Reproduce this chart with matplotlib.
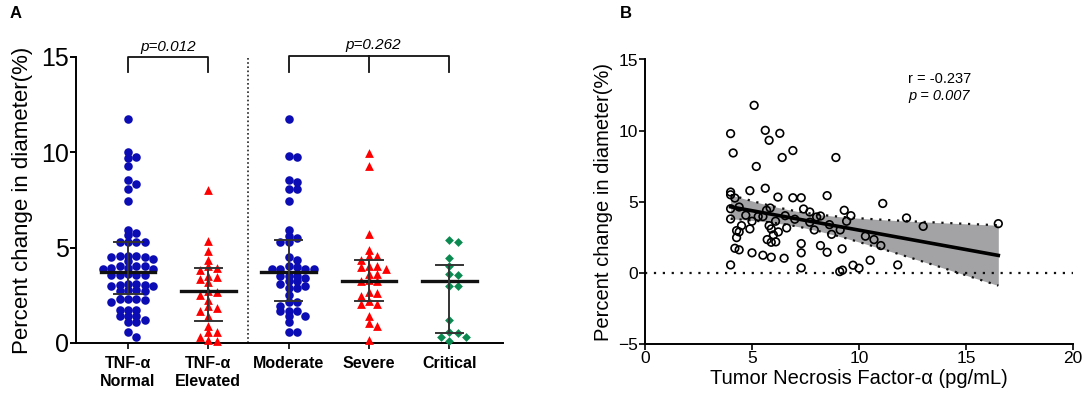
import numpy as np
import matplotlib
matplotlib.use("Agg")
import matplotlib.pyplot as plt

plt.rcParams['font.family'] = ['Liberation Sans', 'DejaVu Sans']

# panel A: percent change per group
groups = ["TNF-α\nNormal", "TNF-α\nElevated", "Moderate", "Severe", "Critical"]
normal = [11.75, 10.0, 9.76, 9.69, 9.30, 8.57, 8.36, 8.08, 7.43, 5.94, 5.77, 5.65,
          5.28, 5.28, 5.28, 5.28, 4.58, 4.58, 4.58, 4.49, 4.49, 4.40, 4.28,
          4.02, 4.02, 4.02, 3.93, 3.93, 3.88, 3.88, 3.60, 3.58, 3.58, 3.58, 3.55,
          3.10, 3.05, 3.05, 3.00, 3.00, 3.10, 2.80, 2.75, 2.72, 2.80,
          2.30, 2.30, 2.25, 2.30, 2.17, 1.75, 1.75, 1.75, 1.43, 1.43, 1.43,
          1.22, 1.10, 1.08, 0.56, 0.31]
elevated = [8.05, 5.37, 4.84, 4.37, 4.02, 3.93, 3.81, 3.53, 3.44, 3.35, 3.18, 2.72,
            2.67, 2.53, 2.27, 1.92, 1.83, 1.66, 1.40, 0.87, 0.56, 0.56, 0.31, 0.17, 0.08]
moderate = [11.75, 9.79, 9.74, 8.57, 8.43, 8.08, 8.08, 7.43, 5.94, 5.63, 5.51, 5.28, 5.28,
            4.51, 4.37, 4.02, 3.97, 3.88, 3.88, 3.88, 3.88, 3.50, 3.50, 3.50, 3.41,
            3.23, 3.23, 3.10, 2.97, 2.88, 2.88, 2.53, 2.13, 2.13, 1.96, 1.70, 1.66,
            1.66, 1.43, 1.43, 1.08, 0.56, 0.56]
severe = [9.97, 9.27, 5.72, 4.86, 4.58, 4.55, 4.34, 4.02, 4.02, 3.97, 3.88, 3.64, 3.64,
          3.30, 3.23, 3.23, 2.66, 2.62, 2.48, 2.19, 2.06, 2.06, 1.43, 1.05, 0.87, 0.14]
critical = [5.38, 5.28, 4.46, 4.02, 3.62, 3.58, 3.00, 3.00, 1.22, 0.56, 0.52, 0.31, 0.31, 0.09]
medians = [3.74, 2.72, 3.74, 3.27, 3.23]
q1 = [2.57, 1.17, 2.22, 2.22, 0.52]
q3 = [5.28, 3.93, 5.38, 4.37, 4.11]

# panel B: TNF-alpha vs percent change
tnf = [4.0, 4.12, 5.1, 5.62, 5.8, 6.3, 5.2, 6.41, 6.91, 8.92, 4.0, 4.0, 4.2, 4.0, 4.0,
       4.4, 4.9, 5.62, 6.21, 6.91, 7.3, 8.51, 11.11, 12.22, 13.0, 16.51, 4.71, 4.51,
       4.28, 4.4, 4.28, 4.2, 4.4, 4.0, 4.9, 5.0, 5.0, 5.29, 5.51, 5.68, 5.85, 5.71,
       5.8, 5.9, 6.0, 5.9, 6.11, 6.1, 6.23, 5.51, 5.9, 6.5, 6.55, 6.62, 7.0, 7.3, 7.3,
       7.3, 7.41, 7.7, 7.7, 7.91, 8.02, 8.2, 8.2, 8.51, 8.62, 8.72, 9.12, 9.21, 9.31,
       9.42, 9.62, 9.1, 9.23, 9.72, 10.0, 10.3, 10.52, 10.7, 11.02, 11.81]
change = [9.79, 8.43, 11.78, 10.02, 9.32, 9.81, 7.48, 8.11, 8.6, 8.11, 5.68, 5.49, 5.26,
          4.51, 3.79, 4.63, 5.78, 5.95, 5.33, 5.28, 5.28, 5.43, 4.88, 3.86, 3.27, 3.46,
          4.05, 3.32, 2.97, 2.88, 2.48, 1.73, 1.62, 0.56, 3.09, 3.63, 1.41, 3.96, 3.96,
          4.4, 4.56, 2.34, 3.32, 3.09, 2.67, 2.15, 2.18, 3.63, 2.88, 1.24, 1.1, 1.03,
          4.02, 3.16, 3.77, 2.06, 1.41, 0.35, 4.49, 4.28, 3.56, 3.02, 3.93, 4.0, 1.92,
          1.45, 3.39, 2.71, 3.02, 1.69, 4.4, 3.63, 4.02, 0.09, 0.19, 0.54, 0.33, 2.58,
          0.89, 2.34, 1.92, 0.56]


def swarm(values, center, xpx, ypx, d=8.3, tight=0.62):
    # simple beeswarm: place each point at the nearest free slot in pixel space
    order = np.argsort(values)[::-1]
    placed = []
    xs = np.zeros(len(values))
    for i in order:
        y = values[i] * ypx
        for k in [0, 1, -1, 2, -2, 3, -3, 4, -4, 5, -5]:
            x = k * d
            if all((x - px) ** 2 + (y - py) ** 2 >= (d * tight) ** 2 for px, py in placed):
                break
        placed.append((x, y))
        xs[i] = center + x / xpx
    return xs


fig = plt.figure(figsize=(10.84, 3.96), dpi=100)

# ---- panel A ----
ax1 = fig.add_axes([76 / 1084, 1 - 343 / 396, 427 / 1084, 286 / 396])
ax1.set_xlim(-0.648, 4.67)
ax1.set_ylim(0, 15)
xpx, ypx = 80.25, 19.07

data = [normal, elevated, moderate, severe, critical]
colors = ['#0c0cb4', '#ff0000', '#0c0cb4', '#ff0000', '#0a8a50']
markers = ['o', '^', 'o', '^', 'D']
sizes = [38, 40, 38, 40, 20]
for i, vals in enumerate(data):
    xs = swarm(vals, i, xpx, ypx)
    ax1.scatter(xs, vals, s=sizes[i], c=colors[i], marker=markers[i],
                linewidths=0, zorder=3, clip_on=False)

for i in range(len(groups)):
    ax1.plot([i - 0.34, i + 0.34], [medians[i]] * 2, color='#111111', lw=2.4, zorder=4)
    ax1.plot([i, i], [q1[i], q3[i]], color='#333333', lw=1.4, zorder=4)
    for q in (q1[i], q3[i]):
        ax1.plot([i - 0.17, i + 0.17], [q, q], color='#333333', lw=1.4, zorder=4)

ax1.axvline(1.5, ymin=0, ymax=1, color='#222222', lw=1.2, linestyle=(0, (1, 1.5)))

# significance brackets
ax1.plot([0, 0, 1, 1], [14.2, 15.0, 15.0, 14.2], color='#111111', lw=1.3, clip_on=False)
ax1.text(0.5, 15.55, 'p=0.012', ha='center', va='center', fontsize=11, style='italic')
ax1.plot([2, 2, 4, 4], [14.2, 15.05, 15.05, 14.2], color='#111111', lw=1.3, clip_on=False)
ax1.plot([3, 3], [15.05, 14.2], color='#111111', lw=1.3, clip_on=False)
ax1.text(3.05, 15.65, 'p=0.262', ha='center', va='center', fontsize=11, style='italic')

ax1.spines['top'].set_visible(False)
ax1.spines['right'].set_visible(False)
ax1.spines['left'].set_linewidth(1.4)
ax1.spines['bottom'].set_linewidth(1.4)
ax1.set_yticks([0, 5, 10, 15])
ax1.tick_params(axis='y', labelsize=18, width=1.4, length=4, pad=1)
ax1.set_xticks(range(len(groups)))
ax1.set_xticklabels(groups, fontsize=11.5, fontweight='bold', linespacing=1.25)
ax1.tick_params(axis='x', width=1.2, length=4, pad=5)
ax1.set_ylabel('Percent change in diameter(%)', fontsize=16, labelpad=6)
fig.text(10 / 1084, 1 - 14 / 396, 'A', fontsize=12, fontweight='bold', va='center')

# ---- panel B ----
ax2 = fig.add_axes([645 / 1084, 1 - 344 / 396, 428 / 1084, 284.5 / 396])
ax2.set_xlim(0, 20)
ax2.set_ylim(-5, 15)

x = np.array(tnf)
y = np.array(change)
slope, intercept = np.polyfit(x, y, 1)
n = len(x)
resid = y - (slope * x + intercept)
s = np.sqrt(np.sum(resid ** 2) / (n - 2))
xf = np.linspace(x.min(), x.max(), 100)
yf = slope * xf + intercept
se = s * np.sqrt(1 / n + (xf - x.mean()) ** 2 / np.sum((x - x.mean()) ** 2))
t = 1.99
ax2.fill_between(xf, yf - t * se, yf + t * se, color='#a3a3a6', lw=0, zorder=1)
ax2.plot(xf, yf + t * se, color='#111111', lw=1.6, linestyle=(0, (1, 3)), zorder=2)
ax2.plot(xf, yf - t * se, color='#111111', lw=1.6, linestyle=(0, (1, 3)), zorder=2)
ax2.plot(xf, yf, color='#000000', lw=2.6, zorder=3)
ax2.axhline(0, color='#111111', lw=1.6, linestyle=(0, (1, 3)), zorder=2)

ax2.scatter(x, y, s=30, facecolors='none', edgecolors='#000000', linewidths=1.2, zorder=4)

ax2.text(12.3, 13.6, 'r = -0.237', fontsize=10.5, va='center')
ax2.text(12.3, 12.4, 'p = 0.007', fontsize=10.5, va='center', style='italic')

ax2.spines['top'].set_visible(False)
ax2.spines['right'].set_visible(False)
ax2.spines['left'].set_linewidth(1.4)
ax2.spines['bottom'].set_linewidth(1.4)
ax2.set_xticks([0, 5, 10, 15, 20])
ax2.set_yticks([-5, 0, 5, 10, 15])
ax2.tick_params(labelsize=12.5, width=1.2, length=4, pad=1)
ax2.set_xlabel('Tumor Necrosis Factor-α (pg/mL)', fontsize=14.5, labelpad=2)
ax2.set_ylabel('Percent change in diameter(%)', fontsize=14.5, labelpad=4)
fig.text(620 / 1084, 1 - 14 / 396, 'B', fontsize=12, fontweight='bold', va='center')

fig.savefig('out.png', dpi=100)
